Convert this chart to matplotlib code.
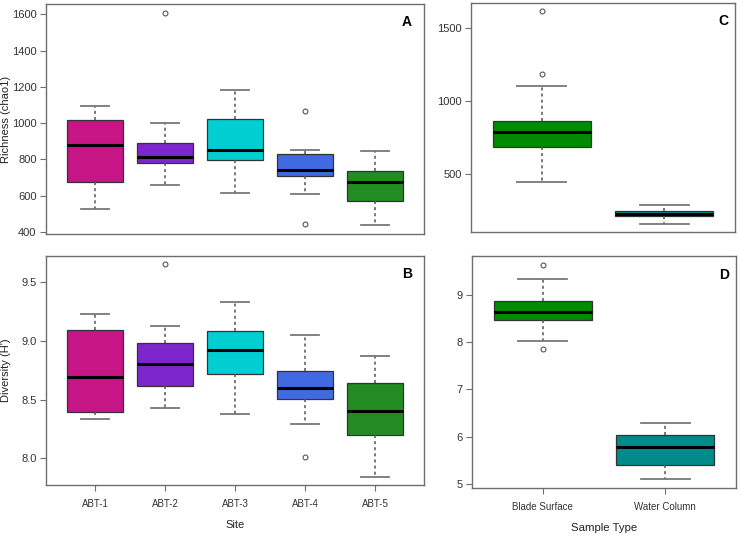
import matplotlib
matplotlib.use("Agg")
import matplotlib.pyplot as plt

plt.rcParams['font.family'] = ['Liberation Sans', 'DejaVu Sans']

# Site boxplots (A: richness, B: diversity)
sites = ['ABT-1', 'ABT-2', 'ABT-3', 'ABT-4', 'ABT-5']
site_colors = ['#C71585', '#7D26CD', '#00CED1', '#4169E1', '#228B22']

rich_whislo = [527, 657, 613, 610, 437]
rich_q1 = [674, 777, 799, 707, 569]
rich_med = [881, 815, 852, 740, 674]
rich_q3 = [1019, 892, 1023, 832, 736]
rich_whishi = [1096, 1000, 1181, 852, 848]
rich_fliers = [[], [1609], [], [1065, 444], []]

div_whislo = [8.333, 8.432, 8.379, 8.294, 7.847]
div_q1 = [8.393, 8.613, 8.718, 8.506, 8.203]
div_med = [8.695, 8.800, 8.924, 8.602, 8.404]
div_q3 = [9.088, 8.983, 9.079, 8.740, 8.644]
div_whishi = [9.229, 9.124, 9.325, 9.048, 8.870]
div_fliers = [[], [9.647], [], [8.014], []]

# Sample type boxplots (C: richness, D: diversity)
types = ['Blade Surface', 'Water Column']
type_colors = ['#008B00', '#008B8B']

trich_whislo = [447, 162]
trich_q1 = [689, 212]
trich_med = [788, 224]
trich_q3 = [868, 249]
trich_whishi = [1105, 290]
trich_fliers = [[1616, 1185], []]

tdiv_whislo = [8.032, 5.092]
tdiv_q1 = [8.477, 5.403]
tdiv_med = [8.647, 5.784]
tdiv_q3 = [8.866, 6.032]
tdiv_whishi = [9.332, 6.279]
tdiv_fliers = [[9.643, 7.855], []]

frame_col = '#6e6e6e'


def make_stats(whislo, q1, med, q3, whishi, fliers):
    return [dict(whislo=a, q1=b, med=c, q3=d, whishi=e, fliers=f)
            for a, b, c, d, e, f in zip(whislo, q1, med, q3, whishi, fliers)]


def draw(ax, stats, colors, ylim, yticks, ytl, letter, xlabels=None):
    bp = ax.bxp(stats, positions=range(1, len(stats) + 1), widths=0.8,
                patch_artist=True, manage_ticks=False,
                boxprops=dict(edgecolor='#333333', linewidth=0.9),
                medianprops=dict(color='black', linewidth=2.2),
                whiskerprops=dict(color='#555555', linestyle=(0, (2, 2)), linewidth=1.1),
                capprops=dict(color='#777777', linewidth=1.3),
                capwidths=0.4,
                flierprops=dict(marker='o', markersize=3.5, markerfacecolor='none',
                                markeredgecolor='#555555', markeredgewidth=0.8))
    for patch, c in zip(bp['boxes'], colors):
        patch.set_facecolor(c)
    n = len(stats)
    ax.set_xlim(0.5 - 0.04 * n, n + 0.5 + 0.04 * n)
    ax.set_ylim(*ylim)
    ax.set_yticks(yticks)
    ax.set_yticklabels(ytl, fontsize=8, color='#333333')
    for s in ax.spines.values():
        s.set_color(frame_col)
        s.set_linewidth(1.0)
    ax.tick_params(axis='y', length=4.3, color=frame_col, pad=2.5)
    if xlabels is None:
        ax.set_xticks([])
    else:
        ax.set_xticks(range(1, n + 1))
        ax.set_xticklabels(xlabels, fontsize=7, color='#333333')
        ax.tick_params(axis='x', length=4.3, color=frame_col, pad=6)
    ax.text(0.955, 0.92, letter, transform=ax.transAxes, fontsize=10,
            fontweight='bold', ha='center', va='center')


fig = plt.figure(figsize=(7.4, 5.43), dpi=100)
W, H = 740.0, 543.0


def box(l, t, r, b):
    return [l / W, 1 - b / H, (r - l) / W, (b - t) / H]


axA = fig.add_axes(box(46, 4, 424, 234))
axB = fig.add_axes(box(46, 256, 424, 485))
axC = fig.add_axes(box(471, 3, 735, 232))
axD = fig.add_axes(box(472, 256, 736, 488))

draw(axA, make_stats(rich_whislo, rich_q1, rich_med, rich_q3, rich_whishi, rich_fliers),
     site_colors, (388, 1657), [400, 600, 800, 1000, 1200, 1400, 1600],
     ['400', '600', '800', '1000', '1200', '1400', '1600'], 'A')
draw(axB, make_stats(div_whislo, div_q1, div_med, div_q3, div_whishi, div_fliers),
     site_colors, (7.775, 9.719), [8.0, 8.5, 9.0, 9.5],
     ['8.0', '8.5', '9.0', '9.5'], 'B', sites)
draw(axC, make_stats(trich_whislo, trich_q1, trich_med, trich_q3, trich_whishi, trich_fliers),
     type_colors, (104, 1674), [500, 1000, 1500], ['500', '1000', '1500'], 'C')
draw(axD, make_stats(tdiv_whislo, tdiv_q1, tdiv_med, tdiv_q3, tdiv_whishi, tdiv_fliers),
     type_colors, (4.91, 9.825), [5, 6, 7, 8, 9], ['5', '6', '7', '8', '9'], 'D', types)

axA.set_ylabel('Richness (chao1)', fontsize=8, color='#222222')
axB.set_ylabel("Diversity (H')", fontsize=8, color='#222222')
axA.yaxis.label.set_verticalalignment('center')
axB.yaxis.label.set_verticalalignment('center')
axA.yaxis.set_label_coords(6 / W, 1 - 119 / H, transform=fig.transFigure)
axB.yaxis.set_label_coords(6 / W, 1 - 370 / H, transform=fig.transFigure)
axB.set_xlabel('Site', fontsize=8, color='#222222', labelpad=8)
axD.set_xlabel('Sample Type', fontsize=8.2, color='#222222', labelpad=8)

fig.savefig('out.png', dpi=100)
